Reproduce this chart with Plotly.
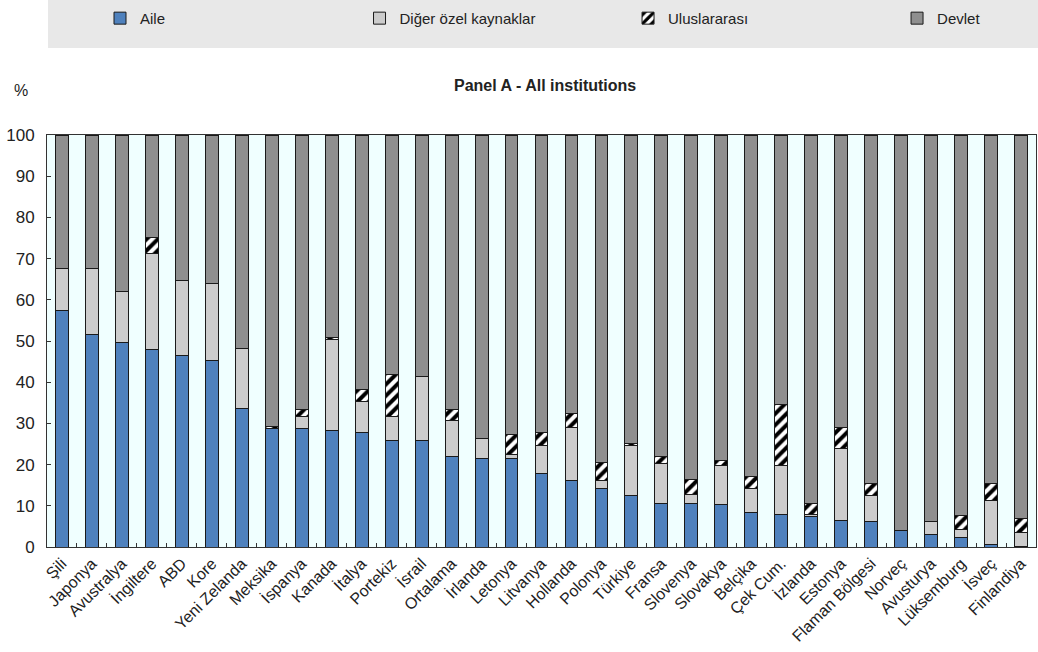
import plotly.graph_objects as go

countries = ["Şili", "Japonya", "Avustralya", "İngiltere", "ABD", "Kore", "Yeni Zelanda", "Meksika",
             "İspanya", "Kanada", "İtalya", "Portekiz", "İsrail", "Ortalama", "İrlanda", "Letonya",
             "Litvanya", "Hollanda", "Polonya", "Türkiye", "Fransa", "Slovenya", "Slovakya", "Belçika",
             "Çek Cum.", "İzlanda", "Estonya", "Flaman Bölgesi", "Norveç", "Avusturya", "Lüksemburg",
             "İsveç", "Finlandiya"]

aile = [57.3, 51.7, 49.6, 48.0, 46.4, 45.2, 33.6, 28.8, 28.8, 28.3, 27.9, 25.9, 25.9, 21.9, 21.5, 21.5,
        17.8, 16.2, 14.2, 12.6, 10.5, 10.5, 10.4, 8.4, 7.9, 7.5, 6.5, 6.1, 4.1, 3.0, 2.4, 0.7, 0.2]
diger = [10.3, 15.9, 12.3, 23.3, 18.4, 18.8, 14.7, 0.0, 2.8, 22.1, 7.3, 5.7, 15.6, 8.9, 4.8, 0.9,
         6.9, 12.9, 2.0, 12.1, 9.8, 2.3, 9.4, 5.8, 11.9, 0.3, 17.4, 6.3, 0.0, 3.1, 1.8, 10.6, 3.2]
ulus = [0.0, 0.0, 0.0, 3.8, 0.0, 0.0, 0.0, 0.4, 1.8, 0.4, 3.0, 10.3, 0.0, 2.6, 0.0, 4.9,
        3.2, 3.4, 4.4, 0.4, 1.6, 3.7, 1.3, 2.8, 14.9, 2.7, 5.0, 3.1, 0.0, 0.0, 3.5, 4.2, 3.5]
devlet = [round(100 - a - d - u, 1) for a, d, u in zip(aile, diger, ulus)]

series_names = ["Aile", "Diğer özel kaynaklar", "Uluslararası", "Devlet"]
y_ticks = [0, 10, 20, 30, 40, 50, 60, 70, 80, 90, 100]

FONT = "Liberation Sans Narrow, Liberation Sans, Arial, sans-serif"
TXT = "#222222"
line = dict(color="#1a1a1a", width=1)

fig = go.Figure()
fig.add_trace(go.Bar(name=series_names[0], x=countries, y=aile, legend="legend",
                     marker=dict(color="#4F81BD", line=line)))
fig.add_trace(go.Bar(name=series_names[1], x=countries, y=diger, legend="legend2",
                     marker=dict(color="#CCCCCC", line=line)))
fig.add_trace(go.Bar(name=series_names[2], x=countries, y=ulus, legend="legend3",
                     marker=dict(color="white", line=line,
                                 pattern=dict(shape="/", fgcolor="black", bgcolor="white",
                                              fgopacity=1, size=8, solidity=0.5))))
fig.add_trace(go.Bar(name=series_names[3], x=countries, y=devlet, legend="legend4",
                     marker=dict(color="#8F8F8F", line=line)))

def leg(xp):
    return dict(x=xp, y=1.283, xanchor="left", yanchor="middle", orientation="h",
                bgcolor="rgba(0,0,0,0)", font=dict(family=FONT, size=15, color=TXT))

fig.update_layout(
    barmode="stack",
    bargap=0.57,
    width=1038, height=652,
    autosize=False,
    margin=dict(l=47, r=2, t=135, b=105, autoexpand=False),
    paper_bgcolor="white",
    plot_bgcolor="#F0FFFF",
    font=dict(family=FONT, size=16, color=TXT),
    showlegend=True,
    legend=leg(0.0536),
    legend2=leg(0.316),
    legend3=leg(0.5875),
    legend4=leg(0.8595),
    shapes=[dict(type="rect", xref="paper", yref="paper", x0=0.001, x1=1.002,
                 y0=1.211, y1=1.33, fillcolor="#E8E8E8", line=dict(width=0), layer="below")],
    annotations=[
        dict(text="<b>Panel A - All institutions</b>", xref="paper", yref="paper",
             x=0.5035, y=1.119, xanchor="center", yanchor="middle", showarrow=False,
             font=dict(family=FONT, size=16, color=TXT)),
        dict(text="%", xref="paper", yref="paper", x=-0.0265, y=1.109, xanchor="center",
             yanchor="middle", showarrow=False, font=dict(family=FONT, size=16, color=TXT)),
    ],
)
fig.update_xaxes(type="category", tickangle=-45, showline=True, linecolor="#333", linewidth=1,
                 mirror=True, ticks="inside", tickson="boundaries", ticklen=4, tickcolor="#333",
                 tickfont=dict(family=FONT, size=16, color=TXT), showgrid=False, automargin=False)
fig.update_yaxes(range=[0, 100], tickvals=y_ticks, showline=True, linecolor="#333", linewidth=1,
                 mirror=True, ticks="inside", ticklen=4, tickcolor="#333", showgrid=False,
                 zeroline=False, tickfont=dict(family=FONT, size=17, color=TXT), automargin=False,
                 ticklabelstandoff=8)

post = ("document.body.style.margin='0';document.body.style.padding='0';"
        "var gd=document.getElementById('{plot_id}');"
        "Plotly.relayout(gd,{width:1038,height:652});")

fig.write_html("out.html", post_script=post, config={"displayModeBar": False})
